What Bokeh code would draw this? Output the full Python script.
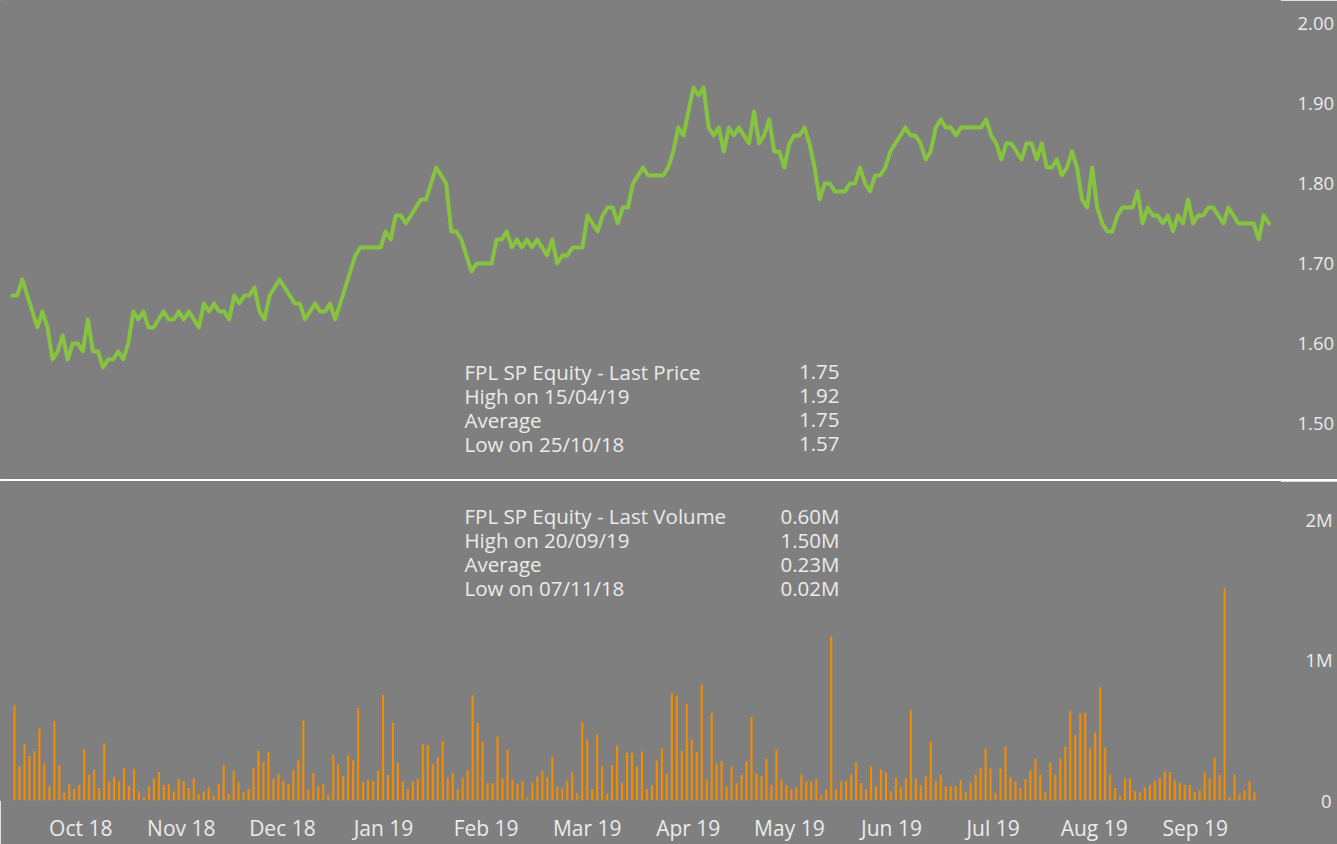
from bokeh.plotting import figure
from bokeh.layouts import column
from bokeh.models import Range1d, FixedTicker, Label, NumeralTickFormatter
from bokeh.embed import file_html
from bokeh.resources import INLINE

# ---------------- data ----------------
price = [
    1.66, 1.66, 1.68, 1.66, 1.64, 1.62, 1.64, 1.62, 1.58, 1.59,
    1.61, 1.58, 1.60, 1.60, 1.59, 1.63, 1.59, 1.59, 1.57, 1.58,
    1.58, 1.59, 1.58, 1.60, 1.64, 1.63, 1.64, 1.62, 1.62, 1.63,
    1.64, 1.63, 1.63, 1.64, 1.63, 1.64, 1.63, 1.62, 1.65, 1.64,
    1.65, 1.64, 1.64, 1.63, 1.66, 1.65, 1.66, 1.66, 1.67, 1.64,
    1.63, 1.66, 1.67, 1.68, 1.67, 1.66, 1.65, 1.65, 1.63, 1.64,
    1.65, 1.64, 1.64, 1.65, 1.63, 1.65, 1.67, 1.69, 1.71, 1.72,
    1.72, 1.72, 1.72, 1.72, 1.74, 1.73, 1.76, 1.76, 1.75, 1.76,
    1.77, 1.78, 1.78, 1.80, 1.82, 1.81, 1.80, 1.74, 1.74, 1.73,
    1.71, 1.69, 1.70, 1.70, 1.70, 1.70, 1.73, 1.73, 1.74, 1.72,
    1.73, 1.72, 1.73, 1.72, 1.73, 1.72, 1.71, 1.73, 1.70, 1.71,
    1.71, 1.72, 1.72, 1.72, 1.76, 1.75, 1.74, 1.76, 1.77, 1.77,
    1.75, 1.77, 1.77, 1.80, 1.81, 1.82, 1.81, 1.81, 1.81, 1.81,
    1.82, 1.84, 1.87, 1.86, 1.89, 1.92, 1.91, 1.92, 1.87, 1.86,
    1.87, 1.84, 1.87, 1.86, 1.87, 1.86, 1.85, 1.89, 1.85, 1.86,
    1.88, 1.84, 1.84, 1.82, 1.85, 1.86, 1.86, 1.87, 1.85, 1.82,
    1.78, 1.80, 1.80, 1.79, 1.79, 1.79, 1.80, 1.80, 1.82, 1.80,
    1.79, 1.81, 1.81, 1.82, 1.84, 1.85, 1.86, 1.87, 1.86, 1.86,
    1.85, 1.83, 1.84, 1.87, 1.88, 1.87, 1.87, 1.86, 1.87, 1.87,
    1.87, 1.87, 1.87, 1.88, 1.86, 1.85, 1.83, 1.85, 1.85, 1.84,
    1.83, 1.85, 1.85, 1.83, 1.85, 1.82, 1.82, 1.83, 1.81, 1.82,
    1.84, 1.82, 1.78, 1.77, 1.82, 1.77, 1.75, 1.74, 1.74, 1.76,
    1.77, 1.77, 1.77, 1.79, 1.75, 1.77, 1.76, 1.76, 1.75, 1.76,
    1.74, 1.76, 1.75, 1.78, 1.75, 1.76, 1.76, 1.77, 1.77, 1.76,
    1.75, 1.77, 1.76, 1.75, 1.75, 1.75, 1.75, 1.73, 1.76, 1.75,
]

# volume in millions of shares
volume = [
    0.676, 0.246, 0.399, 0.317, 0.352, 0.512, 0.263, 0.103, 0.563, 0.251,
    0.054, 0.117, 0.082, 0.110, 0.364, 0.181, 0.216, 0.089, 0.406, 0.136,
    0.169, 0.136, 0.230, 0.103, 0.223, 0.066, 0.023, 0.099, 0.153, 0.202,
    0.110, 0.117, 0.066, 0.153, 0.139, 0.089, 0.160, 0.047, 0.066, 0.094,
    0.033, 0.117, 0.251, 0.047, 0.209, 0.129, 0.061, 0.082, 0.230, 0.352,
    0.272, 0.340, 0.153, 0.192, 0.139, 0.117, 0.216, 0.286, 0.568, 0.082,
    0.195, 0.103, 0.117, 0.040, 0.322, 0.258, 0.174, 0.322, 0.286, 0.657,
    0.131, 0.146, 0.139, 0.209, 0.751, 0.181, 0.554, 0.263, 0.139, 0.082,
    0.139, 0.153, 0.399, 0.392, 0.258, 0.308, 0.423, 0.160,
    0.195, 0.080, 0.164, 0.214, 0.749, 0.552, 0.418, 0.124, 0.124, 0.455,
    0.157, 0.362, 0.146, 0.115, 0.136, 0.023, 0.129, 0.171, 0.209, 0.164,
    0.312, 0.096, 0.087, 0.138, 0.200, 0.052, 0.559, 0.432, 0.082, 0.469,
    0.244, 0.047, 0.251, 0.390, 0.124, 0.340, 0.340, 0.244, 0.350, 0.082,
    0.108, 0.284, 0.371, 0.192, 0.763, 0.744, 0.350, 0.685, 0.434, 0.343,
    0.826, 0.150, 0.622, 0.263, 0.279, 0.101, 0.244, 0.122, 0.181, 0.277,
    0.594, 0.192, 0.174, 0.298, 0.110, 0.362, 0.150, 0.108, 0.082, 0.094,
    0.185, 0.136, 0.136, 0.150, 0.038, 0.080, 1.167, 0.080, 0.136, 0.143,
    0.185, 0.270, 0.124, 0.080, 0.242, 0.101, 0.221, 0.200, 0.066, 0.160,
    0.094, 0.160, 0.641, 0.157, 0.108, 0.171, 0.418, 0.136, 0.185, 0.101,
    0.101, 0.103, 0.146, 0.059, 0.127, 0.185, 0.235, 0.369, 0.228, 0.052,
    0.228, 0.383, 0.164, 0.136, 0.089, 0.153, 0.214, 0.298, 0.185, 0.059,
    0.270, 0.185, 0.300, 0.383, 0.636, 0.467, 0.617, 0.624, 0.369, 0.484,
    0.805, 0.376, 0.185, 0.089, 0.031, 0.157, 0.157, 0.066, 0.056, 0.094,
    0.108, 0.143, 0.157, 0.207, 0.202, 0.143, 0.122, 0.108, 0.108, 0.059,
    0.073, 0.200, 0.157, 0.305, 0.181, 1.509, 0.023, 0.185, 0.045, 0.073,
    0.136, 0.059,
]

month_labels = ["Oct 18", "Nov 18", "Dec 18", "Jan 19", "Feb 19", "Mar 19",
                "Apr 19", "May 19", "Jun 19", "Jul 19", "Aug 19", "Sep 19"]
month_pos = [13.3, 33.5, 53.8, 74.1, 94.7, 115.0, 135.3, 155.6, 176.1, 196.5, 216.8, 237.1]

price_ticks = [1.5, 1.6, 1.7, 1.8, 1.9, 2.0]
volume_ticks = [0, 1, 2]
volume_tick_labels = ["\u2007\u20080", "1M", "2M"]

price_stats = [("FPL SP Equity - Last Price", "1.75"),
               ("High on 15/04/19", "1.92"),
               ("Average", "1.75"),
               ("Low on 25/10/18", "1.57")]
volume_stats = [("FPL SP Equity - Last Volume", "0.60M"),
                ("High on 20/09/19", "1.50M"),
                ("Average", "0.23M"),
                ("Low on 07/11/18", "0.02M")]

# ---------------- style ----------------
BG = "#7f7f7f"
TXT = "#ebebeb"
FONT = "Open Sans"
GREEN = "#86c440"
ORANGE = "#f48c00"
W = 1337
RB = 57
LEG_SIZE = "20.5px"

idx = list(range(len(price)))


def style_axis(ax, size):
    ax.axis_line_color = None
    ax.major_tick_line_color = None
    ax.minor_tick_line_color = None
    ax.major_tick_out = 0
    ax.major_tick_in = 0
    ax.minor_tick_out = 0
    ax.major_label_text_font = FONT
    ax.major_label_text_font_size = size
    ax.major_label_text_color = TXT


def add_stats(p, stats, y0, dy):
    for i, (name, val) in enumerate(stats):
        yc = y0 - dy * i
        p.add_layout(Label(x=464, y=yc, x_units="screen", y_units="data", text=name,
                           text_font=FONT, text_font_size=LEG_SIZE, text_color=TXT,
                           text_baseline="middle", text_align="left"))
        p.add_layout(Label(x=839, y=yc, x_units="screen", y_units="data", text=val,
                           text_font=FONT, text_font_size=LEG_SIZE, text_color=TXT,
                           text_baseline="middle", text_align="right"))


# ---------------- price panel ----------------
p1 = figure(width=W, height=479, output_backend="svg", toolbar_location=None,
            x_range=Range1d(-2.318, 251.32), y_range=Range1d(1.43, 2.02875),
            x_axis_location=None, y_axis_location="right",
            min_border_left=0, min_border_right=RB, min_border_top=0, min_border_bottom=0,
            background_fill_color=BG, border_fill_color=BG,
            outline_line_color=BG, outline_line_width=1)
p1.grid.visible = False
p1.line(idx, price, line_color=GREEN, line_width=4, line_join="round", line_cap="round")
ya = p1.yaxis[0]
ya.ticker = FixedTicker(ticks=price_ticks)
ya.formatter = NumeralTickFormatter(format="0.00")
style_axis(ya, "18.5px")
ya.major_label_standoff = 17

add_stats(p1, price_stats, 1.5650, 0.03)

# ---------------- volume panel ----------------
p2 = figure(width=W, height=363, output_backend="svg", toolbar_location=None,
            x_range=Range1d(-2.811, 254.22), y_range=Range1d(0, 2.2676),
            y_axis_location="right",
            min_border_left=0, min_border_right=RB, min_border_top=0, min_border_bottom=41,
            background_fill_color=BG, border_fill_color=BG,
            outline_line_color=BG, outline_line_width=1)
p2.grid.visible = False
p2.vbar(x=idx, top=volume, bottom=0, width=0.42, fill_color=ORANGE, line_color=None)

va = p2.yaxis[0]
va.ticker = FixedTicker(ticks=volume_ticks)
va.major_label_overrides = {t: l for t, l in zip(volume_ticks, volume_tick_labels)}
style_axis(va, "18.5px")
va.major_label_standoff = 25

xa = p2.xaxis[0]
xa.ticker = FixedTicker(ticks=month_pos)
xa.major_label_overrides = {t: l for t, l in zip(month_pos, month_labels)}
style_axis(xa, "21px")
xa.major_label_standoff = 13

add_stats(p2, volume_stats, 2.0197, 0.169)

layout = column(p1, p2, spacing=2)

open("out.html", "w").write(file_html(layout, INLINE))
